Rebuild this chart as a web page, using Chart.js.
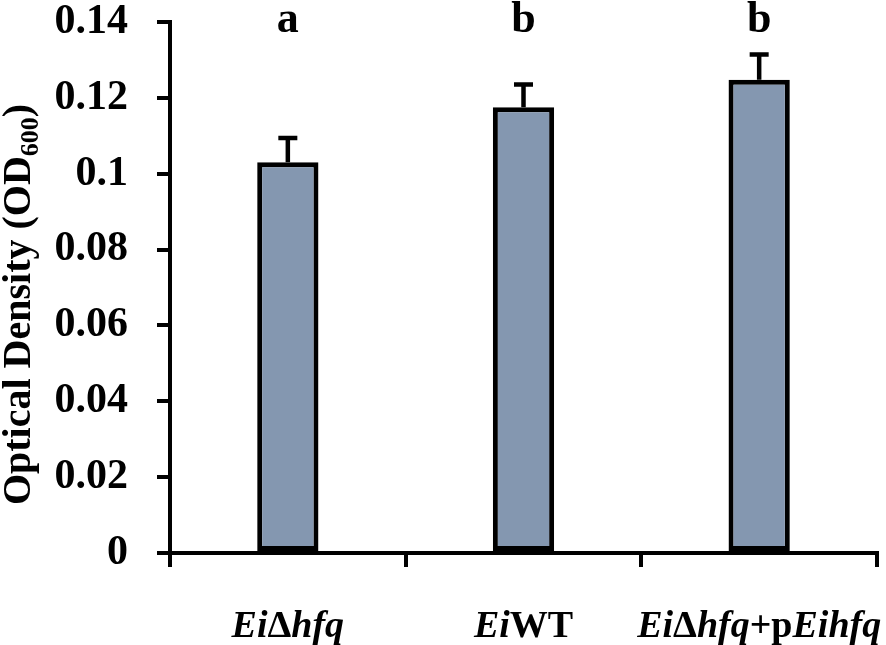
<!DOCTYPE html>
<html>
<head>
<meta charset="utf-8">
<script src="https://cdn.jsdelivr.net/npm/chart.js@4.4.1/dist/chart.umd.min.js"></script>
<style>
  html, body { margin: 0; padding: 0; background: #fff; }
  #wrap { width: 886px; height: 645px; }
</style>
</head>
<body>
<div id="wrap"><canvas id="myChart"></canvas></div>
<script>
// Strains on the x axis, each label split in [text, italic?] pieces
const strains = ['EiΔhfq', 'EiWT', 'EiΔhfq+pEihfq'];
const strainParts = [
  [['Ei', true], ['Δ', false], ['hfq', true]],
  [['Ei', true], ['WT', false]],
  [['Ei', true], ['Δ', false], ['hfq', true], ['+p', false], ['Eihfq', true]]
];
// mean OD600 and standard deviation
const od600 = [0.103, 0.1175, 0.1248];
const odError = [0.0064, 0.006, 0.0066];
// significance letters over the bars
const letters = ['a', 'b', 'b'];
const yTicks = [0, 0.02, 0.04, 0.06, 0.08, 0.1, 0.12, 0.14];

const SERIF = '"Liberation Serif", "DejaVu Serif", serif';

// error bars, letters, strain names and the axis title
const extras = {
  id: 'extras',
  afterDatasetsDraw(chart) {
    const c = chart.ctx;
    const x = chart.scales.x;
    const y = chart.scales.y;
    c.save();
    c.strokeStyle = '#000';
    c.fillStyle = '#000';

    // error bars (upper half only)
    od600.forEach((v, i) => {
      const px = x.getPixelForValue(i);
      const top = y.getPixelForValue(v + odError[i]);
      const base = y.getPixelForValue(v);
      c.lineWidth = 4.5;
      c.beginPath();
      c.moveTo(px, base);
      c.lineTo(px, top);
      c.moveTo(px - 9.5, top);
      c.lineTo(px + 9.5, top);
      c.stroke();
    });

    // letters
    c.font = 'bold 44px ' + SERIF;
    c.textAlign = 'center';
    c.textBaseline = 'alphabetic';
    letters.forEach((t, i) => {
      c.fillText(t, x.getPixelForValue(i), y.getPixelForValue(0.14) + 10);
    });

    // strain names with mixed italic
    c.textAlign = 'left';
    strainParts.forEach((parts, i) => {
      let w = 0;
      parts.forEach(p => {
        c.font = (p[1] ? 'italic ' : '') + 'bold 38px ' + SERIF;
        w += c.measureText(p[0]).width;
      });
      let cx = x.getPixelForValue(i) - w / 2;
      parts.forEach(p => {
        c.font = (p[1] ? 'italic ' : '') + 'bold 38px ' + SERIF;
        c.fillText(p[0], cx, x.bottom - 8);
        cx += c.measureText(p[0]).width;
      });
    });

    // y axis title with subscript
    const main = 'Optical Density (OD';
    c.translate(30, (y.top + y.bottom) / 2 + 17);
    c.rotate(-Math.PI / 2);
    c.font = 'bold 40px ' + SERIF;
    const w1 = c.measureText(main).width;
    const w3 = c.measureText(')').width;
    c.font = 'bold 26px ' + SERIF;
    const w2 = c.measureText('600').width;
    let tx = -(w1 + w2 + w3) / 2;
    c.font = 'bold 40px ' + SERIF;
    c.fillText(main, tx, 0);
    tx += w1;
    c.font = 'bold 26px ' + SERIF;
    c.fillText('600', tx, 8);
    tx += w2;
    c.font = 'bold 40px ' + SERIF;
    c.fillText(')', tx, 0);
    c.restore();
  }
};

const ctx = document.getElementById('myChart');
const myChart = new Chart(ctx, {
  type: 'bar',
  data: {
    labels: strains,
    datasets: [{
      label: 'OD600',
      data: od600,
      backgroundColor: '#8497b0',
      borderColor: '#000',
      borderWidth: 5,
      borderSkipped: false,
      barPercentage: 0.26,
      categoryPercentage: 1
    }]
  },
  options: {
    responsive: true,
    maintainAspectRatio: false,
    animation: false,
    devicePixelRatio: 1,
    layout: {
      padding: { top: 22, right: 9, left: 0, bottom: 0 }
    },
    plugins: {
      legend: { display: false },
      tooltip: { enabled: false }
    },
    scales: {
      x: {
        grid: {
          display: true,
          offset: true,
          drawOnChartArea: false,
          drawTicks: true,
          tickLength: 14,
          color: '#000',
          lineWidth: 4
        },
        border: { display: true, color: '#000', width: 4 },
        ticks: { display: false },
        afterFit: function(scale) {
          scale.height = 92;
          scale.paddingLeft = 0;
          scale.paddingRight = 0;
        }
      },
      y: {
        min: 0,
        max: 0.14,
        afterBuildTicks: function(scale) {
          scale.ticks = yTicks.map(v => ({ value: v }));
        },
        grid: {
          display: true,
          drawOnChartArea: false,
          drawTicks: true,
          tickLength: 13,
          color: '#000',
          lineWidth: 4
        },
        border: { display: true, color: '#000', width: 4 },
        ticks: {
          color: '#000',
          padding: 29,
          font: { family: SERIF, size: 42, weight: 'bold' },
          callback: function(value) { return String(Math.round(value * 100) / 100); }
        },
        afterFit: function(scale) {
          scale.width = 170;
          scale.paddingTop = 0;
          scale.paddingBottom = 0;
        }
      }
    }
  },
  plugins: [extras]
});
</script>
</body>
</html>
